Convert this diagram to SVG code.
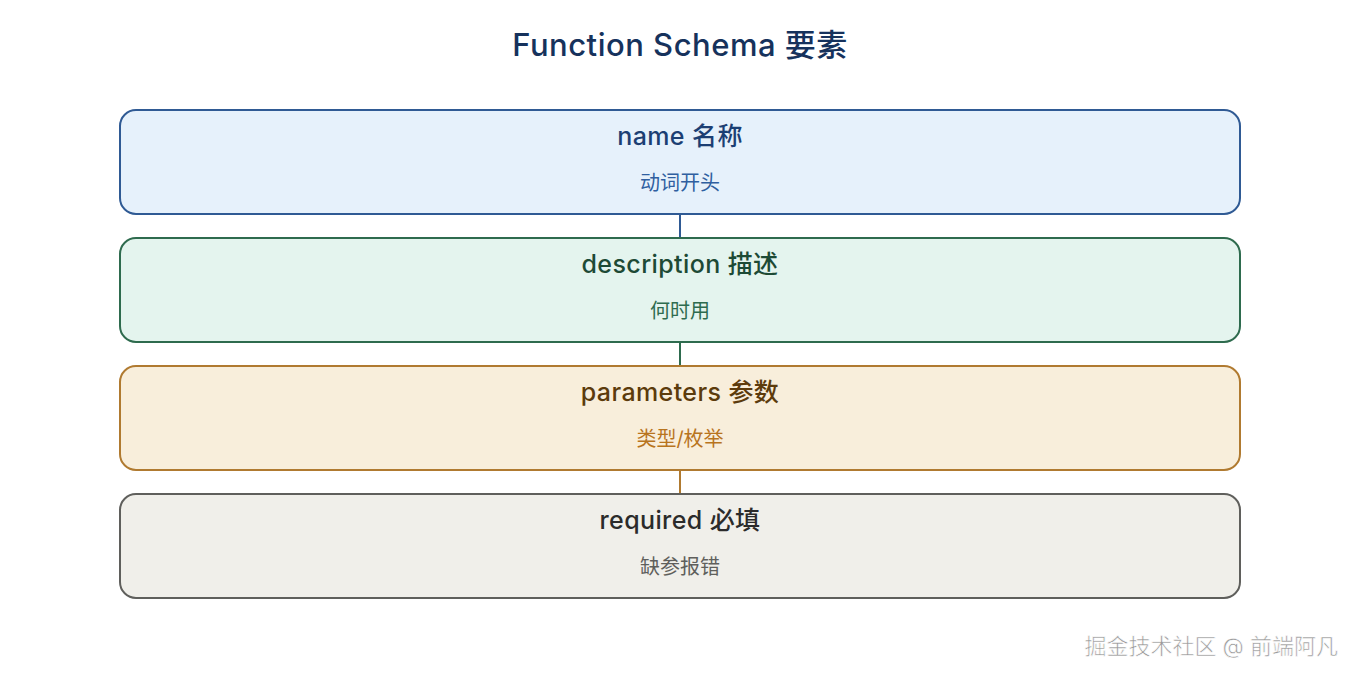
<svg xmlns="http://www.w3.org/2000/svg" width="1360" height="680" viewBox="0 0 1360 680">
<style>
text{font-family:"Inter","Noto Sans CJK SC",sans-serif;text-anchor:middle}
.t{font-size:25px;font-weight:500;letter-spacing:0.4px}
.s{font-size:20px}
.box{stroke-width:2}
</style>
<rect width="1360" height="680" fill="#fff"/>
<text x="680" y="56" class="t" style="font-size:31px;letter-spacing:0.5px" fill="#16325c">Function Schema 要素</text>
<g id="connectors" stroke-width="2">
<line x1="680" y1="214" x2="680" y2="238" stroke="#2f5a94"/>
<line x1="680" y1="342" x2="680" y2="366" stroke="#2e6b4e"/>
<line x1="680" y1="470" x2="680" y2="494" stroke="#b07a30"/>
</g>
<g id="name">
<rect class="box" x="120" y="110" width="1120" height="104" rx="16" fill="#e6f1fb" stroke="#2f5a94"/>
<text x="680" y="145" class="t" fill="#1c3f73">name 名称</text>
<text x="680" y="190" class="s" fill="#2f5fa0">动词开头</text>
</g>
<g id="description">
<rect class="box" x="120" y="238" width="1120" height="104" rx="16" fill="#e4f4ee" stroke="#2e6b4e"/>
<text x="680" y="273" class="t" fill="#1d4a35">description 描述</text>
<text x="680" y="318" class="s" fill="#2e6b4e">何时用</text>
</g>
<g id="parameters">
<rect class="box" x="120" y="366" width="1120" height="104" rx="16" fill="#f8eedb" stroke="#b07a30"/>
<text x="680" y="401" class="t" fill="#5c3b0c">parameters 参数</text>
<text x="680" y="446" class="s" fill="#b8741e">类型/枚举</text>
</g>
<g id="required">
<rect class="box" x="120" y="494" width="1120" height="104" rx="16" fill="#f0efea" stroke="#5f5f5c"/>
<text x="680" y="529" class="t" fill="#2b2b2b">required 必填</text>
<text x="680" y="574" class="s" fill="#5f5f5c">缺参报错</text>
</g>
<text x="1338" y="654" style="font-size:22px;text-anchor:end" fill="#999" stroke="#fff" stroke-width="0.6">掘金技术社区 @ 前端阿凡</text>
</svg>
